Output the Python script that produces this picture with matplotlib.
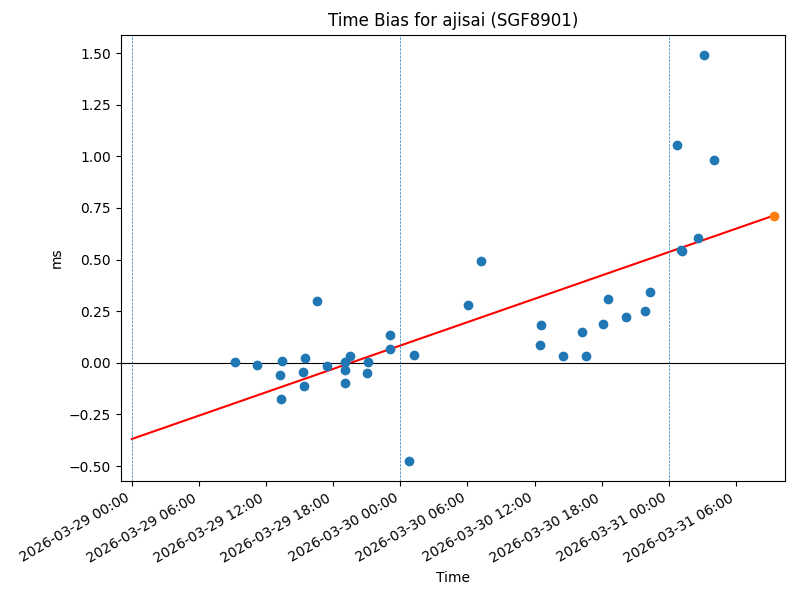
import numpy as np
import pandas as pd
import matplotlib
matplotlib.use("Agg")
import matplotlib.pyplot as plt
import matplotlib.dates as mdates

# observation times, hours after 2026-03-29 00:00
obs_hours = [9.22, 11.19, 13.42, 13.24, 13.33, 15.47, 15.29, 15.38, 16.54, 17.44,
             19.04, 19.04, 19.04, 19.49, 21.10, 21.00, 23.06, 23.06, 25.20, 24.76,
             30.03, 31.19, 36.54, 36.45, 38.50, 40.56, 40.20, 42.08, 42.53, 44.13,
             45.83, 46.28, 48.69, 49.05, 49.20, 50.63, 51.17, 52.06]
# time bias, ms
bias_ms = [0.005, -0.010, 0.010, -0.060, -0.175, 0.025, -0.045, -0.110, 0.300, -0.015,
           0.005, -0.035, -0.100, 0.035, 0.005, -0.050, 0.135, 0.065, 0.040, -0.475,
           0.280, 0.495, 0.185, 0.085, 0.035, 0.035, 0.150, 0.190, 0.310, 0.220,
           0.250, 0.345, 1.055, 0.545, 0.540, 0.605, 1.490, 0.980]

# linear trend (ms per hour) and prediction time
fit_intercept = -0.369
fit_slope = 0.01886
predict_hour = 57.38
day_marks = ["2026-03-29", "2026-03-30", "2026-03-31"]

t0 = pd.Timestamp("2026-03-29 00:00")
obs_times = [t0 + pd.Timedelta(hours=h) for h in obs_hours]
pred_time = t0 + pd.Timedelta(hours=predict_hour)
pred_value = fit_intercept + fit_slope * predict_hour

fig, ax = plt.subplots(figsize=(8, 6), dpi=100)

ax.scatter(obs_times, bias_ms, color="#1f77b4", zorder=3)
ax.plot([t0, pred_time], [fit_intercept, pred_value], color="red")
ax.scatter([pred_time], [pred_value], color="#ff7f0e", zorder=4)

ax.axhline(0, color="black", linewidth=0.8)
for d in day_marks:
    ax.axvline(pd.Timestamp(d), color="#1f77b4", linestyle="--", linewidth=0.5)

ax.set_xlim(t0 - pd.Timedelta(hours=0.98), pred_time + pd.Timedelta(hours=0.98))
ax.xaxis.set_major_locator(mdates.HourLocator(byhour=[0, 6, 12, 18]))
ax.xaxis.set_major_formatter(mdates.DateFormatter("%Y-%m-%d %H:%M"))

ax.set_title("Time Bias for ajisai (SGF8901)")
ax.set_xlabel("Time")
ax.set_ylabel("ms")
fig.autofmt_xdate()
fig.subplots_adjust(left=0.151, right=0.981, top=0.942, bottom=0.198)
fig.savefig("out.png")
